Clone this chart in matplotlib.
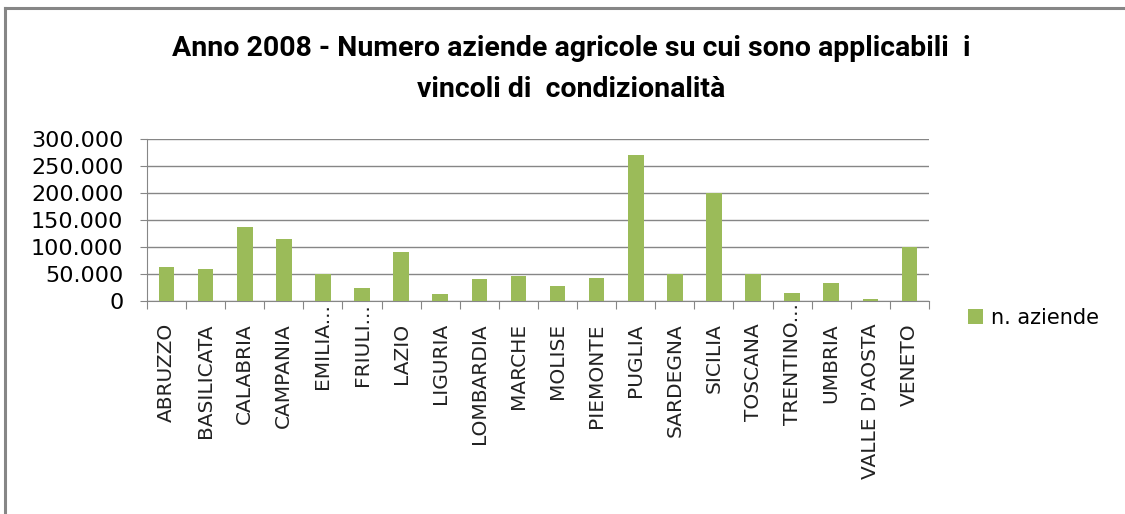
import matplotlib
matplotlib.use("Agg")
import matplotlib.pyplot as plt
import matplotlib.transforms as mtransforms
from matplotlib.patches import Patch
from matplotlib.lines import Line2D
from matplotlib.ticker import FuncFormatter, FixedLocator

# dati
regioni = ["ABRUZZO", "BASILICATA", "CALABRIA", "CAMPANIA", "EMILIA...",
           "FRIULI...", "LAZIO", "LIGURIA", "LOMBARDIA", "MARCHE", "MOLISE",
           "PIEMONTE", "PUGLIA", "SARDEGNA", "SICILIA", "TOSCANA",
           "TRENTINO...", "UMBRIA", "VALLE D'AOSTA", "VENETO"]
aziende = [62500, 60000, 136500, 115000, 50000, 24500, 90500, 13000, 41500,
           46500, 27000, 43000, 270000, 49500, 199500, 50500, 15000, 34000,
           3500, 99500]
y_ticks = [0, 50000, 100000, 150000, 200000, 250000, 300000]
serie = "n. aziende"
titolo = "Anno 2008 - Numero aziende agricole su cui sono applicabili  i\nvincoli di  condizionalità"

W, H = 1125, 514
VERDE = "#9bbb59"
GRIGIO = "#868686"

fig = plt.figure(figsize=(W / 100, H / 100), dpi=100)
fig.patch.set_facecolor("white")

# cornice del grafico (solo sopra e a sinistra come nello screenshot)
fig.add_artist(Line2D([5 / W, 1], [1 - 8 / H, 1 - 8 / H], color=GRIGIO, lw=2.2))
fig.add_artist(Line2D([5 / W, 5 / W], [0, 1 - 8 / H], color=GRIGIO, lw=2.2))

ax = fig.add_axes([147 / W, (H - 301) / H, 782 / W, 162 / H])
x = list(range(len(regioni)))
ax.bar(x, aziende, width=0.4, color=VERDE, zorder=3)

ax.set_xlim(-0.5, len(regioni) - 0.5)
ax.set_ylim(0, 300000)
ax.set_yticks(y_ticks)
ax.yaxis.set_major_formatter(FuncFormatter(lambda v, p: f"{int(v):,}".replace(",", ".")))
ax.grid(axis="y", color=GRIGIO, lw=1, zorder=0)

for s in ["top", "right"]:
    ax.spines[s].set_visible(False)
ax.spines["left"].set_color(GRIGIO)
ax.spines["bottom"].set_color(GRIGIO)

# tacche tra le categorie, etichette al centro
ax.xaxis.set_major_locator(FixedLocator([i - 0.5 for i in range(len(regioni) + 1)]))
ax.xaxis.set_major_formatter(FuncFormatter(lambda v, p: ""))
ax.tick_params(axis="x", which="major", length=6, color=GRIGIO)
ax.set_xticks(x, minor=True)
ax.set_xticklabels(regioni, minor=True, rotation=90, fontsize=14.5,
                   family="DejaVu Sans", va="top", ha="center", color="#222222")
ax.tick_params(axis="x", which="minor", length=0, pad=16)
ax.tick_params(axis="y", length=5, color=GRIGIO, pad=12, labelsize=16)

fig.canvas.draw()
for lab in ax.xaxis.get_minorticklabels():
    if lab.get_text().endswith("..."):
        lab.set_transform(lab.get_transform() + mtransforms.ScaledTranslation(0, 20 / 100, fig.dpi_scale_trans))

fig.text(571 / W, 1 - 69 / H, titolo, ha="center", va="center",
         fontsize=20.5, fontweight="bold", linespacing=1.62,
         family=["Roboto", "DejaVu Sans"])

fig.legend(handles=[Patch(facecolor=VERDE, edgecolor="none", label=serie)],
           loc="center left", bbox_to_anchor=(968 / W, 1 - 318 / H),
           frameon=False, fontsize=15, handlelength=0.7, handleheight=0.7,
           handletextpad=0.4, borderpad=0, borderaxespad=0)

fig.savefig("out.png", dpi=100)
